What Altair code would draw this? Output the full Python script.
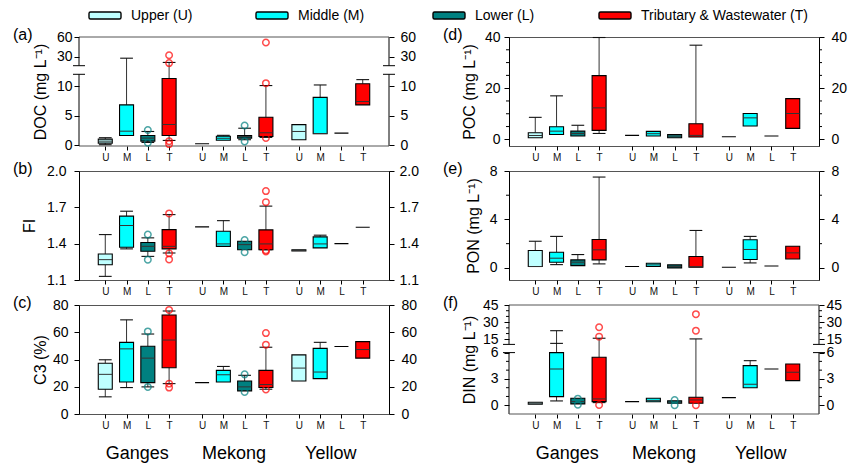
import altair as alt
import pandas as pd

GROUPS = ["Ganges", "Mekong", "Yellow"]
CATS = ["U", "M", "L", "T"]
LEGEND_LABELS = ["Upper (U)", "Middle (M)", "Lower (L)", "Tributary & Wastewater (T)"]
COLORS = ["#BFFFFF", "#00FFFF", "#008080", "#FF0000"]
GAP = 4.55  # distance between river groups, in box slots

N = None
# (whisker low, Q1, median, Q3, whisker high); order: Ganges U M L T, Mekong U M L T, Yellow U M L T
DOC = [(0.12, 0.39, 0.72, 1.06, 1.3), (N, 1.68, 2.4, 6.84, 27.5), (0.5, 0.72, 1.23, 1.68, 2.35), (0.84, 1.68, 3.53, 11.3, 21.0),
       (N, 0.28, 0.28, 0.28, N), (N, 0.88, 1.2, 1.55, 1.7), (0.96, 1.23, 1.5, 1.68, 2.9), (1.35, 1.5, 2.13, 4.76, 10.1),
       (N, 0.96, 2.35, 3.5, N), (N, 1.97, 2.0, 8.1, 10.2), (N, 2.07, 2.07, 2.07, N), (N, 6.84, 7.4, 10.4, 11.1)]
DOC_OUT = [(2, 2.6), (2, 0.45), (3, 32.0), (3, 20.0), (3, 0.72), (3, 0.22), (6, 3.36), (6, 0.67), (7, 51.6), (7, 10.5), (7, 1.25)]

FI = [(1.13, 1.226, 1.268, 1.315, 1.475), (1.357, 1.37, 1.55, 1.627, 1.668), (1.295, 1.337, 1.378, 1.41, 1.448), (1.323, 1.357, 1.378, 1.516, 1.64),
      (N, 1.539, 1.539, 1.539, N), (N, 1.378, 1.398, 1.502, 1.59), (N, 1.35, 1.392, 1.42, N), (1.35, 1.35, 1.398, 1.514, 1.71),
      (N, 1.34, 1.345, 1.35, N), (N, 1.365, 1.398, 1.456, 1.47), (N, 1.40, 1.40, 1.40, N), (N, 1.536, 1.536, 1.536, N)]
FI_OUT = [(2, 1.475), (2, 1.268), (3, 1.65), (3, 1.32), (3, 1.27), (6, 1.43), (6, 1.33), (7, 1.834), (7, 1.743), (7, 1.345), (7, 1.335)]

C3 = [(12.6, 18.2, 29.1, 37.3, 39.8), (19.4, 23.5, 47.8, 52.6, 69.1), (19.9, 23.0, 41.0, 49.7, 58.7), (22.3, 34.0, 54.3, 72.7, 75.6),
      (N, 23.0, 23.0, 23.0, N), (N, 23.5, 28.8, 32.0, 34.9), (N, 17.0, 19.9, 24.2, 28.4), (18.2, 19.4, 21.6, 32.0, 49.0),
      (N, 24.2, 33.7, 43.4, N), (N, 26.0, 30.8, 48.2, 52.6), (N, 49.5, 49.5, 49.5, N), (N, 41.0, 47.3, 53.1, N)]
C3_OUT = [(2, 60.6), (2, 19.9), (3, 76.4), (3, 22.3), (3, 19.4), (6, 29.1), (6, 16.2), (7, 59.4), (7, 50.9), (7, 18.0)]

POC = [(N, 0.65, 1.5, 2.6, 8.6), (N, 1.9, 3.2, 4.9, 17.0), (N, 1.3, 2.3, 3.2, 5.5), (2.3, 3.5, 12.3, 24.9, 39.8),
       (N, 1.55, 1.55, 1.55, N), (N, 1.3, 2.2, 3.1, N), (N, 0.65, 1.3, 1.9, N), (N, 0.9, 1.55, 6.1, 36.8),
       (N, 1.0, 1.0, 1.0, N), (N, 5.2, 8.4, 10.1, N), (N, 1.3, 1.3, 1.3, N), (N, 4.3, 10.1, 15.9, N)]
POC_OUT = []

PON = [(N, 0.11, 0.11, 1.43, 2.2), (0.27, 0.47, 0.8, 1.29, 2.6), (N, 0.19, 0.47, 0.66, 1.1), (0.33, 0.66, 1.49, 2.35, 7.5),
       (N, 0.11, 0.11, 0.11, N), (N, 0.11, 0.25, 0.38, N), (N, 0.0, 0.12, 0.25, N), (N, 0.05, 0.1, 0.94, 3.09),
       (N, 0.05, 0.05, 0.05, N), (0.41, 0.69, 1.52, 2.32, 2.6), (N, 0.16, 0.16, 0.16, N), (N, 0.74, 1.24, 1.79, N)]
PON_OUT = []

DIN = [(N, 0.11, 0.23, 0.34, N), (0.49, 0.98, 4.13, 6.0, 22.5), (N, 0.15, 0.41, 0.8, N), (0.3, 0.41, 0.72, 5.47, 15.9),
       (N, 0.41, 0.41, 0.41, N), (N, 0.4, 0.55, 0.8, N), (N, 0.23, 0.35, 0.5, N), (N, 0.23, 0.6, 0.91, 15.3),
       (N, 0.87, 0.87, 0.87, N), (N, 2.0, 2.39, 4.51, 5.08), (N, 4.13, 4.13, 4.13, N), (N, 2.8, 3.76, 4.7, N)]
DIN_OUT = [(2, 0.75), (2, 0.05), (3, 25.5), (3, 17.3), (3, 0.03), (6, 0.6), (6, 0.0), (7, 37.0), (7, 22.5), (7, 0.0)]
DIN_EXTRA_CAPS = [(1, 11.4)]

W, H = 310, 109
POS = [g * GAP + k for g in range(3) for k in range(4)]
XDOM = [-1, 2 * GAP + 4]
LABEL_EXPR = "['U','M','L','T'][round(datum.value - floor((datum.value + 0.01) / 4.55) * 4.55)]"
LEG_OFF = [10, 177, 354, 520]
ONE = pd.DataFrame({"d": [0]})


def build(letter, title, boxes, outs, ticks, domain, rng=None, minor=(), breaks=None,
          extra_caps=(), legend=False, rivers=False, lpad=4, rpad=6, tpad=8):
    skw = dict(domain=domain, nice=False, zero=False)
    if rng is not None:
        skw["range"] = rng

    def ys():
        return alt.Scale(**skw)

    def xs():
        return alt.Scale(domain=XDOM, nice=False, zero=False)

    broken = breaks is not None
    xaxis = alt.Axis(values=POS, labelExpr=LABEL_EXPR, title=None, grid=False, domain=False,
                     tickSize=4, tickColor="black", labelFontSize=10, labelPadding=2,
                     labelColor="#111", labelFlush=False, labelOverlap=False)
    laxis = alt.Axis(values=ticks, title=title, titleFontSize=16, titleFontWeight="normal",
                     titleColor="black", titlePadding=tpad, labelFontSize=14, labelPadding=lpad,
                     labelColor="black", tickSize=5, tickColor="black", domain=not broken,
                     domainColor="black", grid=False, labelOverlap=False, labelFlush=False)
    raxis = alt.Axis(orient="right", values=ticks, title=None, labelFontSize=14, labelPadding=rpad,
                     labelColor="black", tickSize=5, tickColor="black", domain=not broken,
                     domainColor="black", grid=False, labelOverlap=False, labelFlush=False)

    def X(f):
        return alt.X(f, scale=xs(), axis=xaxis)

    def Y(f):
        return alt.Y(f, scale=ys(), axis=laxis)

    rows, wh, caps, meds = [], [], [], []
    for i, (lo, q1, md, q3, hi) in enumerate(boxes):
        p = POS[i]
        rows.append(dict(pos=p, cat=CATS[i % 4], q1=q1, q3=q3))
        if hi is not None:
            wh.append(dict(pos=p, a=q3, b=hi))
            caps.append(dict(pos=p, v=hi))
        if lo is not None:
            wh.append(dict(pos=p, a=lo, b=q1))
            caps.append(dict(pos=p, v=lo))
        if md is not None and q3 > q1:
            meds.append(dict(pos=p, v=md))
    for i, v in extra_caps:
        caps.append(dict(pos=POS[i], v=v))
    bdf = pd.DataFrame(rows)
    odf = pd.DataFrame([dict(pos=POS[i], cat=CATS[i % 4], v=v) for i, v in outs]) if outs else None

    layers = []
    if broken:
        seg = pd.DataFrame({"a": [domain[0], breaks[1]], "b": [breaks[0], domain[-1]]})
        for xv in (0, W):
            layers.append(alt.Chart(seg).mark_rule(color="black").encode(
                x=alt.value(xv), y=Y("a:Q"), y2="b:Q"))
        bk = pd.DataFrame({"a": list(breaks)})
        for xv in (0, W):
            layers.append(alt.Chart(bk).mark_rule(color="black").encode(
                x=alt.value(xv - 6), x2=alt.value(xv + 6), y=Y("a:Q")))
        for yv in (0, H):
            layers.append(alt.Chart(ONE).mark_rule(color="#555").encode(
                x=alt.value(0), x2=alt.value(W), y=alt.value(yv)))
    if minor:
        mdf = pd.DataFrame({"a": list(minor)})
        for xv, dx in ((0, -3), (W, 3)):
            layers.append(alt.Chart(mdf).mark_rule(color="black").encode(
                x=alt.value(xv), x2=alt.value(xv + dx), y=Y("a:Q")))

    if wh:
        layers.append(alt.Chart(pd.DataFrame(wh)).mark_rule(color="#333", strokeWidth=1).encode(
            x=X("pos:Q"), y=Y("a:Q"), y2="b:Q"))
    if caps:
        layers.append(alt.Chart(pd.DataFrame(caps)).transform_calculate(
            xa="datum.pos - 0.3", xb="datum.pos + 0.3").mark_rule(color="#111", strokeWidth=1.1).encode(
            x=X("xa:Q"), x2="xb:Q", y=Y("a:Q") if False else Y("v:Q")))
    layers.append(alt.Chart(bdf).mark_bar(size=14, stroke="black", strokeWidth=1.1).encode(
        x=X("pos:Q"), y=Y("q1:Q"), y2="q3:Q",
        color=alt.Color("cat:N", scale=alt.Scale(domain=CATS, range=COLORS), legend=None)))
    if meds:
        layers.append(alt.Chart(pd.DataFrame(meds)).transform_calculate(
            xa="datum.pos - 0.32", xb="datum.pos + 0.32").mark_rule(color="#333", strokeWidth=1).encode(
            x=X("xa:Q"), x2="xb:Q", y=Y("v:Q")))
    if odf is not None:
        layers.append(alt.Chart(odf).mark_point(shape="circle", filled=False, size=42, strokeWidth=1.5).encode(
            x=X("pos:Q"), y=Y("v:Q"),
            color=alt.Color("cat:N", scale=alt.Scale(domain=CATS, range=COLORS), legend=None)))

    layers.append(alt.Chart(ONE).mark_text(text=f"({letter})", fontSize=16, align="left",
                                           baseline="middle", color="black").encode(
        x=alt.value(-66), y=alt.value(-2)))
    if legend:
        for i, lab in enumerate(LEGEND_LABELS):
            off = LEG_OFF[i]
            layers.append(alt.Chart(ONE).mark_rect(fill=COLORS[i], stroke="black", strokeWidth=1.4,
                                                   cornerRadius=1.5).encode(
                x=alt.value(off), x2=alt.value(off + 32), y=alt.value(-25), y2=alt.value(-18)))
            layers.append(alt.Chart(ONE).mark_text(text=lab, fontSize=14, align="left",
                                                   baseline="middle", color="black").encode(
                x=alt.value(off + 42), y=alt.value(-21)))
    if rivers:
        rdf = pd.DataFrame({"pos": [g * GAP + 1.5 for g in range(3)], "name": GROUPS})
        layers.append(alt.Chart(rdf).mark_text(fontSize=18, baseline="middle", color="black").encode(
            x=X("pos:Q"), y=alt.value(H + 40), text="name:N"))

    inner = alt.layer(*layers)
    right = alt.Chart(pd.DataFrame({"t": list(ticks)})).mark_point(opacity=0).encode(
        y=alt.Y("t:Q", scale=ys(), axis=raxis))
    props = dict(width=W, height=H)
    if broken:
        props["view"] = alt.ViewBackground(stroke="transparent")
    return alt.layer(inner, right).resolve_scale(y="independent").properties(**props)


pa = build("a", "DOC (mg L⁻¹)", DOC, DOC_OUT, [0, 5, 10, 30, 60], [-0.1, 12, 16, 60],
           rng=[109, 37.3, 28.7, 0], breaks=(12, 16), legend=True, lpad=2, rpad=6, tpad=8)
pb = build("b", "FI", FI, FI_OUT, [1.1, 1.4, 1.7, 2.0], [1.1, 2.0], lpad=8, rpad=5, tpad=9)
pc = build("c", "C3 (%)", C3, C3_OUT, [0, 20, 40, 60, 80], [0, 80], rivers=True, lpad=6, rpad=7, tpad=4)
pd_ = build("d", "POC (mg L⁻¹)", POC, POC_OUT, [0, 20, 40], [-2.6, 40],
            minor=[5, 10, 15, 25, 30, 35], lpad=4, rpad=7, tpad=7)
pe = build("e", "PON (mg L⁻¹)", PON, PON_OUT, [0, 4, 8], [-1, 8], minor=[2, 6], lpad=7, rpad=7, tpad=8)
pf = build("f", "DIN (mg L⁻¹)", DIN, DIN_OUT, [0, 3, 6, 15, 30, 45], [-1, 6, 10.5, 45],
           rng=[109, 47.6, 39.4, 0], breaks=(6, 10.5), minor=[1, 2, 4, 5, 20, 25, 35, 40],
           extra_caps=DIN_EXTRA_CAPS, rivers=True, lpad=6, rpad=2, tpad=5)

chart = alt.concat(pa, pd_, pb, pe, pc, pf, columns=2,
                   spacing={"row": 25, "column": 120}, bounds="flush").properties(
    padding={"left": 12, "top": 8, "right": 4, "bottom": 0}
).configure(font="Liberation Sans").configure_view(stroke="#555", strokeWidth=1)

chart.save("out.html", embed_options={"renderer": "svg", "actions": False})
